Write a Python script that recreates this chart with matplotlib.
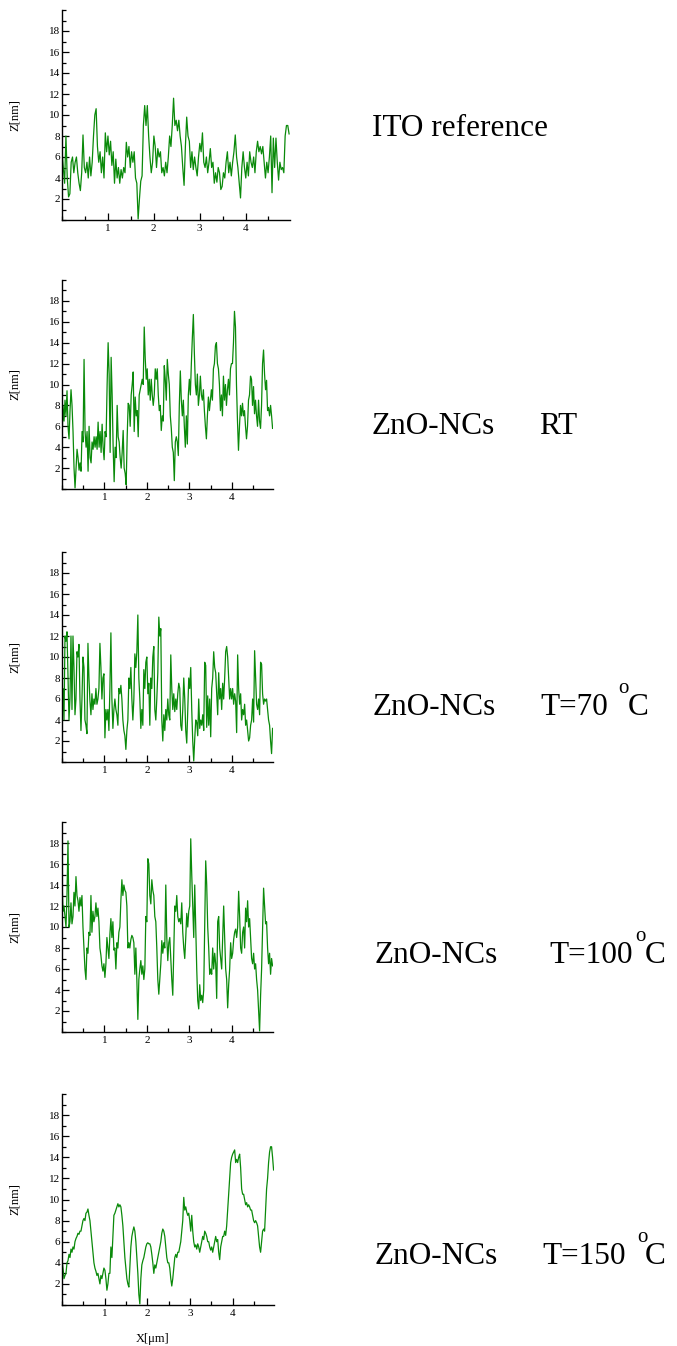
import numpy as np
import matplotlib
matplotlib.use('Agg')
import matplotlib.pyplot as plt
from matplotlib.ticker import MultipleLocator

plt.rcParams['font.family'] = ['Liberation Serif', 'DejaVu Serif']

# AFM line profiles, Z[nm] sampled evenly along X[um]
z_ito = [6.5, 5, 3.5, 8, 4, 2.2, 2.5, 5.5, 6, 4.5, 5.5, 6, 4.5,
         3.5, 2.8, 4.5, 8.1, 5, 4.5, 5.5, 4, 6, 4.2, 5.5, 8, 10, 10.6, 7, 5.5, 6.5,
         4.5, 6, 4, 8.3, 6.5, 8, 6.2, 7.5, 5.2, 6.5, 3.5, 5.8, 4, 5, 3.5, 4.8, 4, 5,
         4.5, 7.4, 6, 7, 5, 6.5, 5.5, 6.5, 4, 3.5, 0.1, 2, 3.7, 4.2, 9, 10.9, 9,
         10.9, 8, 6, 4.5, 5.5, 8, 7, 5, 6.8, 6, 6.5, 4.5, 5, 4.2, 5.5, 4.5, 6, 8, 7,
         9, 11.6, 9, 9.5, 8.5, 9.5, 8, 7, 5, 3.3, 7, 9.8, 8, 7.5, 5, 6.5, 4.8, 6, 5,
         4.2, 6, 7.3, 6.5, 8.3, 5.5, 5, 6, 4.5, 5.5, 6.8, 5, 5.5, 3.5, 4.5, 3.6, 5,
         4.5, 2.9, 3.2, 4.5, 4, 5.5, 6.5, 4.5, 5.5, 4.2, 5.5, 6.5, 8.1, 6, 5, 3.5,
         2.1, 5, 6.5, 5, 4, 5.5, 4.2, 6.5, 5.5, 5, 6, 4.5, 6.5, 7.5, 6.5, 7, 6.3, 7,
         5.5, 4, 5.5, 4.5, 6, 8, 2.6, 7.8, 5, 7.8, 5.5, 3.8, 5.5, 4.8, 5, 4.5, 8, 9,
         9, 8.2]

z_rt = [4.5, 8, 6.5, 8.5, 7, 9.4, 6, 4.8, 7.5, 9.5, 8, 5.5, 2, 0.1, 2, 3.8, 3, 1.8,
        2.5, 1.7, 5.5, 4.5, 12.4, 5.5, 4, 5.5, 1.7, 6, 3, 2.5, 4.5, 3.8, 5, 4, 5,
        3.8, 6.4, 4, 5.5, 3.5, 6.2, 4, 2.8, 5.5, 5, 10, 14, 11, 3.5, 12.6, 9, 4,
        0.7, 4, 3, 8, 5, 4.5, 3, 2, 3.5, 5.6, 2, 1.5, 0.4, 5, 8.2, 8, 6, 9, 10,
        11.2, 5.5, 8.8, 7, 7.5, 5, 9, 9.5, 10, 10.5, 10, 15.5, 12.5, 10.5, 11.5, 9,
        10.5, 8.5, 10.5, 9, 8, 9, 11.5, 10.5, 11.5, 9, 7.5, 8, 5.6, 7, 6.5, 11.8,
        10.5, 8.5, 12.4, 11, 10, 7, 5.8, 4, 3.5, 0.8, 4.5, 5, 4.5, 3.2, 8, 11.3,
        8.5, 7, 8.5, 6, 4, 7, 4.3, 9, 10.5, 9, 12, 14.5, 16.7, 13, 10, 9, 11, 8, 9,
        10.8, 9, 8.5, 9.5, 7.5, 6, 4.8, 7, 8.8, 7.5, 8.5, 9.5, 8.5, 11.5, 12, 13.7,
        14, 12, 11.5, 10, 7.5, 9, 7, 10.8, 8.5, 10, 8, 9.5, 10.5, 9, 11.5, 12, 12,
        14, 17, 15.5, 10, 6.5, 3.7, 6, 8, 7, 8.2, 7, 7.5, 6, 4.8, 6, 8.5, 9, 10.8,
        10.5, 8, 9.8, 7.2, 8.5, 7, 6, 8.5, 6.5, 5.8, 8, 12, 13.3, 11, 9.5, 10.4,
        7.5, 7.8, 7, 8, 7, 5.8]

z_70 = [4, 7, 4, 12, 11.5, 12.4, 8, 4, 6, 12, 5, 12, 9, 4.5, 6, 10.5, 10, 11.2, 6,
        3, 6, 10, 9, 4, 3.5, 2.7, 11.3, 8, 5.8, 4.5, 6.5, 5, 6, 5.5, 7, 5.5, 6, 7,
        11.3, 9, 6, 8, 8.4, 2.3, 5, 4, 5, 3, 7, 12.3, 6, 3.2, 5, 6, 5, 4.5, 3.5, 7,
        6.5, 7.3, 6, 4, 3, 2.5, 1.2, 3, 4, 8, 7, 9, 6, 4, 6, 10.3, 9, 10.5, 14, 8,
        6, 3.2, 5, 3.5, 8.8, 7, 9.5, 10, 6.5, 7.5, 3.5, 8, 7, 10, 11, 5, 4, 6, 8.5,
        13.8, 12, 12.7, 4, 2, 4.5, 3, 5, 4, 6, 4.5, 4, 10.2, 7, 5, 6.5, 4.8, 6, 5,
        6.5, 7.5, 7, 3.5, 3, 5, 8, 6, 3, 1.8, 5, 8, 7, 9, 5, 2, 0.1, 2.2, 4, 3.8,
        2.5, 6, 3.2, 4, 3.5, 4.5, 3, 9.5, 9.2, 3.3, 6.3, 3.5, 6, 2.4, 7, 8, 10.5, 9,
        8.5, 6.5, 4.5, 8.5, 6, 7, 5, 7.5, 6, 8, 10.5, 11, 10, 8, 6, 7, 6, 7, 5.5,
        6.5, 5.8, 2.8, 10.2, 7, 5.5, 6.5, 4, 5, 4.5, 5.5, 3.5, 4, 3, 2, 2.3, 3.5, 4,
        6, 3.8, 10.6, 8, 5.5, 5, 6, 4.5, 9.5, 9.3, 6.5, 5.5, 6, 5.8, 6, 5, 4, 3.5,
        2, 0.8, 3.2]

z_100 = [14.5, 11.5, 12, 11, 10, 13, 18.2, 10, 10.5, 12.3, 10.3, 11, 13.3, 12,
         14.8, 13, 12.5, 11.5, 12.8, 12, 13, 10, 8, 6, 5, 8, 7.5, 9.5, 9.2, 13,
         9.5, 11.5, 10.5, 11, 12.3, 11, 11.8, 10.5, 8, 7.3, 6.3, 5.8, 6.5, 5.2,
         6.5, 9, 8, 7, 9.3, 10.8, 9, 10.5, 7.8, 8, 6, 8.5, 8, 9.5, 10, 12.5, 14.5,
         13, 14, 13.5, 13.3, 12, 8, 8.5, 8, 8.8, 9.2, 9, 8.5, 5.5, 8, 5, 1.2, 5, 6,
         6.8, 5.5, 6.3, 5, 6, 11, 10.5, 16.5, 16, 13, 12.2, 14.5, 13.5, 13, 11,
         10.5, 8, 5, 3.6, 5, 6.5, 8.7, 7.5, 8.5, 8, 14, 9, 6.8, 8.5, 9, 7, 5, 3.5,
         8, 12, 11.5, 13, 11, 10.5, 10.8, 10.3, 12.3, 9.5, 8, 7, 9, 11.3, 10, 11.5,
         12, 18.4, 15, 12, 9, 14, 10, 6, 3, 2.2, 4.5, 3, 3.5, 2.8, 4, 10, 16.3, 14,
         10, 8, 5.5, 6, 5.5, 8, 6, 7.5, 6.5, 3.2, 10.5, 11, 8, 7, 6, 9, 12, 9, 6, 5,
         2.3, 4.5, 6, 8.5, 7, 7.5, 8.8, 9.5, 9.8, 9, 10, 13.4, 11, 8, 7.5, 9.5, 10,
         8, 11.8, 10.5, 12.5, 10, 10.8, 9, 7, 6.5, 7.5, 6, 6.5, 5, 4, 2, 0.1, 3.5,
         6, 10, 13.7, 12, 10.3, 10.5, 8, 6.5, 7.5, 5.5, 7, 6.3]

z_150 = [4.3, 3.5, 2.5, 2.8, 3, 4, 4.2, 4.8, 4.5, 5.3, 5, 5.5, 5.3, 6, 6.3, 6.5,
         6.8, 6.7, 7, 7, 7.5, 8, 8.2, 8, 8.7, 8.8, 9.1, 8.5, 8, 7, 6, 5, 4, 3.5,
         3.2, 2.8, 3, 2.5, 2, 2.8, 2.5, 3, 3.5, 3.3, 2.5, 1.4, 2, 3, 3, 5.5, 4.5,
         6.5, 8.5, 8.7, 9, 9.3, 9.6, 9.3, 9.5, 9.3, 8.5, 7.5, 6, 4.5, 3.5, 2.5, 2,
         1.7, 3.5, 5.5, 6.5, 7, 7.4, 7, 6, 4.5, 3, 1, 0.1, 2.5, 3.8, 4.2, 4.5, 5,
         5.5, 5.8, 5.9, 5.8, 5.8, 5.5, 4.8, 4, 3, 3.8, 3.5, 4, 4.5, 5, 5.5, 6, 6.8,
         7.2, 7, 6.5, 5.5, 4.5, 4, 4, 3.5, 2.5, 1.8, 2.5, 3.5, 4.5, 4.8, 4.5, 5, 5,
         5.5, 6, 7, 8, 10.2, 9, 9.3, 8.8, 8.5, 8.7, 8, 7, 8.5, 7, 6, 5.5, 5.7, 5.3,
         5.8, 5.5, 5, 5.5, 6, 6.5, 6.2, 7, 6.8, 6.5, 6, 6, 5.5, 5.2, 5.5, 5, 5.5, 6,
         6.5, 6, 6.2, 5, 4.3, 5.5, 6, 6.5, 6.5, 7, 6.6, 7.5, 9, 10.5, 12, 13.5, 14,
         14.3, 14.5, 14.7, 13.5, 13.8, 13.5, 14, 14.3, 13, 11, 10.5, 10.5, 10, 9.5,
         9.7, 9.3, 9.5, 9.3, 9, 9, 8.5, 8, 7.8, 8, 7.8, 7.5, 6.5, 5.5, 5, 6, 7, 7.2,
         7, 9, 11, 12, 13.5, 14.5, 15, 15, 14, 12.8]

profiles = [z_ito, z_rt, z_70, z_100, z_150]
x_end = [4.95, 4.96, 4.96, 4.96, 4.96]

W, H = 677, 1346
fig = plt.figure(figsize=(W / 100, H / 100), dpi=100)

# axes boxes in pixels: left, right, top, bottom
boxes = [(62, 290, 10, 220), (62, 273, 280, 489), (62, 273, 552, 762),
         (62, 273, 822, 1032), (62, 274, 1094, 1305)]

for z, xe, (l, r, t, b) in zip(profiles, x_end, boxes):
    ax = fig.add_axes([l / W, 1 - b / H, (r - l) / W, (b - t) / H])
    x = np.linspace(0, xe, len(z))
    ax.plot(x, z, color='#0a8a0a', lw=0.9)
    ax.set_xlim(0, 4.97)
    ax.set_ylim(0, 20)
    ax.spines['top'].set_visible(False)
    ax.spines['right'].set_visible(False)
    for s in ['left', 'bottom']:
        ax.spines[s].set_linewidth(1.0)
    ax.xaxis.set_minor_locator(MultipleLocator(0.5))
    ax.yaxis.set_minor_locator(MultipleLocator(1))
    ax.set_xticks([1, 2, 3, 4])
    ax.set_yticks(range(2, 20, 2))
    ax.tick_params(which='both', direction='in', width=0.9, labelsize=8, colors='black')
    ax.tick_params(which='major', length=5)
    ax.tick_params(which='minor', length=3)
    ax.tick_params(axis='y', pad=1.5)
    ax.tick_params(axis='x', pad=3)
    fig.text(15 / W, 1 - (t + b) / 2 / H, 'Z[nm]', rotation=90, ha='center',
             va='center', fontsize=9)

fig.text(153 / W, 1 - 1342 / H, 'X[\u03bcm]', ha='center', va='baseline', fontsize=9)

big = 22.5
small = 15


def put(x, y, s, size=big):
    fig.text(x / W, 1 - y / H, s, ha='left', va='baseline', fontsize=size)


put(372, 136, 'ITO reference')
put(372, 434, 'ZnO-NCs')
put(539, 434, 'RT')
put(373, 715, 'ZnO-NCs')
put(540, 715, 'T=70')
put(618, 693, 'o', small)
put(628, 715, 'C')
put(375, 963, 'ZnO-NCs')
put(549, 963, 'T=100')
put(635, 941, 'o', small)
put(645, 963, 'C')
put(375, 1264, 'ZnO-NCs')
put(542, 1264, 'T=150')
put(637, 1242, 'o', small)
put(645, 1264, 'C')

fig.savefig('out.png', dpi=100)
